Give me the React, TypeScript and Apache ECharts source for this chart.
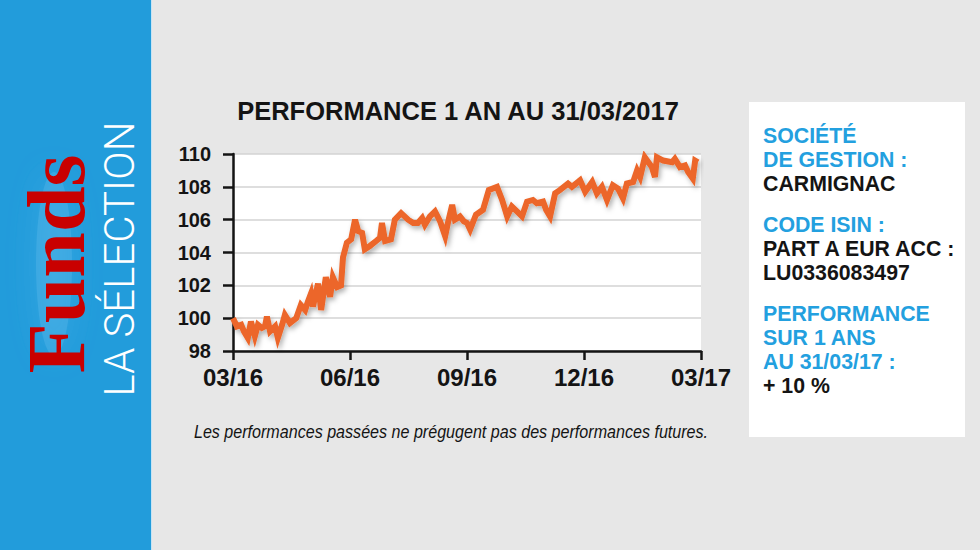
import React, { useEffect, useRef } from "react";
import * as echarts from "echarts";

// ---------- DATA ----------
const titleText = "PERFORMANCE 1 AN AU 31/03/2017";
const footnoteText = "Les performances passées ne prégugent pas des performances futures.";
const xTickLabels = ["03/16", "06/16", "09/16", "12/16", "03/17"];
const yTickMin = 98;
const yTickMax = 110;
const yTickStep = 2;

// x = months elapsed since 31/03/2016, y = fund value (base 100)
const months = [
  0, 0.1, 0.21, 0.28, 0.38, 0.46, 0.56, 0.64, 0.74, 0.82, 0.87, 0.95, 1.08, 1.15, 1.26, 1.33,
  1.46, 1.62, 1.74, 1.85, 1.92, 2.0, 2.05, 2.18, 2.26, 2.38, 2.49, 2.56, 2.67, 2.77, 2.82, 2.92,
  3.03, 3.13, 3.21, 3.31, 3.38, 3.51, 3.67, 3.77, 3.82, 3.9, 4.05, 4.15, 4.31, 4.49, 4.62, 4.74,
  4.85, 4.92, 5.05, 5.18, 5.31, 5.44, 5.51, 5.62, 5.69, 5.82, 5.92, 6.0, 6.08, 6.23, 6.41, 6.56,
  6.77, 6.9, 7.03, 7.15, 7.28, 7.41, 7.54, 7.69, 7.79, 7.95, 8.03, 8.13, 8.26, 8.38, 8.59, 8.69,
  8.85, 8.9, 9.03, 9.21, 9.33, 9.46, 9.59, 9.74, 9.87, 10.0, 10.1, 10.26, 10.36, 10.44, 10.56,
  10.74, 10.82, 10.87, 11.03, 11.26, 11.33, 11.46, 11.59, 11.67, 11.79, 11.85, 11.92,
];
const values = [
  100.0, 99.5, 99.6, 99.2, 98.8, 99.8, 98.9, 99.6, 99.4, 99.5, 100.1, 99.2, 99.5, 98.8, 99.6, 100.2,
  99.7, 100.0, 100.8, 100.5, 101.0, 101.5, 100.7, 102.1, 100.5, 102.5, 101.3, 102.5, 101.9, 102.0, 103.7, 104.6,
  104.8, 106.0, 105.3, 105.2, 104.2, 104.4, 104.7, 104.9, 105.8, 104.7, 104.8, 106.0, 106.4, 106.0, 105.8, 105.8,
  106.1, 105.7, 106.2, 106.5, 105.9, 105.0, 105.8, 106.9, 106.0, 106.2, 105.9, 105.8, 105.4, 106.3, 106.6, 107.8,
  108.0, 107.2, 106.2, 106.8, 106.5, 106.2, 107.1, 107.2, 107.0, 107.1, 106.6, 106.2, 107.6, 107.8, 108.2, 108.0,
  108.3, 108.4, 107.7, 108.3, 107.6, 108.0, 107.2, 108.1, 107.9, 107.3, 108.2, 108.3, 109.0, 108.6, 109.8,
  109.2, 108.6, 109.8, 109.6, 109.5, 109.7, 109.2, 109.3, 108.9, 108.5, 109.6, 109.5,
];

const brandWord = "Funds";
const brandSubtitle = "LA SÉLECTION";

const infoGroups = [
  { heading: ["SOCIÉTÉ", "DE GESTION :"], body: ["CARMIGNAC"] },
  { heading: ["CODE ISIN :"], body: ["PART A EUR ACC :", "LU0336083497"] },
  { heading: ["PERFORMANCE", "SUR 1 ANS", "AU 31/03/17 :"], body: ["+ 10 %"] },
];

// ---------- STYLE / LAYOUT ----------
const SANS = '"Liberation Sans", Arial, Helvetica, sans-serif';
const INK = "#141414";
const BLUE_PANEL = "#229cdb";
const BLUE_TEXT = "#23a0df";
const ORANGE = "#ec6629";
const PAGE_BG = "#e7e7e7";

function txt(text: string, x: number, y: number, s: any, extra: any = {}) {
  return {
    type: "text",
    x,
    y,
    ...extra,
    style: {
      text,
      x: 0,
      y: 0,
      align: "center",
      verticalAlign: "middle",
      textAlign: "center",
      textVerticalAlign: "middle",
      fill: INK,
      fontFamily: SANS,
      ...s,
    },
  };
}

export default function App() {
  const ref = useRef<HTMLDivElement>(null);

  useEffect(() => {
    document.body.style.margin = "0";
    const chart = echarts.init(ref.current!, null, { renderer: "svg" });

    const graphics: any[] = [];
    // left blue band
    graphics.push({ type: "rect", shape: { x: 0, y: 0, width: 151, height: 550 }, style: { fill: BLUE_PANEL }, z: 0 });
    graphics.push({ type: "line", shape: { x1: 151.5, y1: 0, x2: 151.5, y2: 550 }, style: { stroke: "#c6e3f4", lineWidth: 1 }, z: 1 });
    // soft glow behind brand word
    graphics.push({
      type: "ellipse",
      shape: { cx: 54, cy: 264, rx: 18, ry: 92 },
      style: { fill: "rgba(95,185,235,0.35)", shadowBlur: 28, shadowColor: "rgba(95,185,235,0.8)" },
      z: 1,
    });
    graphics.push(
      txt(brandWord, 56, 264, {
        fill: "#c90000",
        fontFamily: '"Liberation Serif", "Times New Roman", serif',
        fontWeight: "bold",
        fontSize: 82,
      }, { rotation: Math.PI / 2, z: 2 })
    );
    graphics.push(
      txt(brandSubtitle, 119, 259, {
        fill: "#ffffff",
        fontFamily: 'Roboto, "Open Sans", sans-serif',
        fontWeight: 300,
        fontSize: 42,
      }, { rotation: Math.PI / 2, z: 2 })
    );
    // title and footnote
    graphics.push(txt(titleText, 458, 111, { fontWeight: "bold", fontSize: 25.5 }));
    graphics.push(
      txt(footnoteText, 451, 432, {
        fontStyle: "italic",
        fontSize: 18.5,
      }, { scaleX: 0.87 })
    );
    // right info box
    graphics.push({ type: "rect", shape: { x: 749, y: 102, width: 216, height: 335 }, style: { fill: "#ffffff" }, z: 0 });
    const groupStarts = [136, 225, 314];
    const lineStep = 24;
    infoGroups.forEach((g, gi) => {
      let y = groupStarts[gi];
      g.heading.forEach((t) => {
        graphics.push(txt(t, 763, y, { align: "left", textAlign: "left", fill: BLUE_TEXT, fontWeight: "bold", fontSize: 21.3 }, { z: 2 }));
        y += lineStep;
      });
      g.body.forEach((t) => {
        graphics.push(txt(t, 763, y, { align: "left", textAlign: "left", fill: INK, fontWeight: "bold", fontSize: 21.3 }, { z: 2 }));
        y += lineStep;
      });
    });

    const axisLineStyle = { color: INK, width: 2.5 };

    const option: any = {
      animation: false,
      backgroundColor: PAGE_BG,
      grid: {
        left: 233,
        top: 154,
        width: 468,
        height: 197,
        show: true,
        backgroundColor: "#ffffff",
        borderWidth: 0,
      },
      xAxis: {
        type: "value",
        min: 0,
        max: 12,
        interval: 3,
        axisLine: { show: true, onZero: false, lineStyle: axisLineStyle },
        axisTick: { show: true, length: 9, lineStyle: axisLineStyle },
        splitLine: { show: false },
        axisLabel: {
          formatter: (v: number) => xTickLabels[Math.round(v / 3)] ?? "",
          fontFamily: SANS,
          fontWeight: "bold",
          fontSize: 24,
          color: INK,
          margin: 14,
        },
      },
      yAxis: {
        type: "value",
        min: yTickMin,
        max: yTickMax,
        interval: yTickStep,
        axisLine: { show: true, onZero: false, lineStyle: axisLineStyle },
        axisTick: { show: true, length: 10, lineStyle: axisLineStyle },
        splitLine: { show: true, lineStyle: { color: "#d3d3d3", width: 1.5 } },
        axisLabel: {
          fontFamily: SANS,
          fontWeight: "bold",
          fontSize: 20,
          color: INK,
          margin: 22,
        },
      },
      series: [
        {
          type: "line",
          data: months.map((m, i) => [m, values[i]]),
          showSymbol: false,
          symbol: "none",
          lineStyle: {
            color: ORANGE,
            width: 6,
            join: "miter",
            miterLimit: 4,
            shadowColor: "rgba(0,0,0,0.3)",
            shadowBlur: 5,
            shadowOffsetX: 2,
            shadowOffsetY: 3,
          },
          z: 3,
        },
      ],
      graphic: graphics,
    };

    chart.setOption(option);
    return () => chart.dispose();
  }, []);

  return <div ref={ref} style={{ position: "fixed", left: 0, top: 0, width: 980, height: 550 }} />;
}
